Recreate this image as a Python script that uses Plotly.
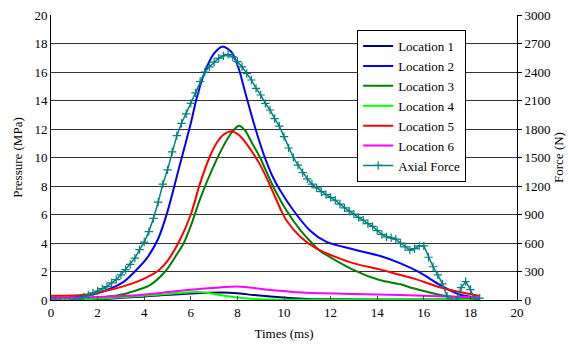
import plotly.graph_objects as go

# ---- data ----
t1 = [0, 2, 4, 6, 7.25, 8.1, 8.7, 10.1, 11, 12, 15, 18.4]
p1 = [0.0, 0.05, 0.25, 0.45, 0.52, 0.45, 0.35, 0.16, 0.07, 0.05, 0.04, 0.03]

t2 = [0, 1.0, 1.7, 2.4, 3.1, 3.6, 4.1, 4.6, 5.0, 5.5, 6.0, 6.25, 6.6, 7.0, 7.35, 7.75,
      8.05, 8.33, 8.6, 8.9, 9.2, 9.5, 9.83, 10.4, 11.1, 11.8, 13.0, 14.1, 15.0, 15.8, 16.7, 17.5, 18.4]
p2 = [0.15, 0.2, 0.35, 0.7, 1.25, 2.0, 2.9, 4.3, 6.2, 9.3, 12.4, 14.15, 16.0, 17.3, 17.78, 17.4,
      16.26, 14.6, 13.0, 11.35, 9.9, 8.7, 7.7, 6.3, 4.9, 4.1, 3.55, 3.1, 2.57, 1.95, 1.05, 0.4, 0.12]

t3 = [0, 1.7, 3.1, 3.8, 4.25, 4.9, 5.4, 5.7, 6.0, 6.4, 6.9, 7.5, 7.8, 8.07, 8.35, 8.6, 8.97, 9.54, 10.1,
      10.7, 11.2, 11.55, 13.0, 14.1, 15.0, 15.55, 16.7, 17.4, 18.4]
p3 = [0.0, 0.1, 0.4, 0.75, 1.05, 2.0, 3.2, 4.0, 5.2, 7.1, 9.1, 11.1, 11.85, 12.23, 11.85, 11.1, 10.0, 7.95, 6.3,
      4.9, 4.0, 3.45, 2.1, 1.4, 1.1, 0.82, 0.35, 0.19, 0.08]

t4 = [0, 2, 4, 5, 6, 6.5, 7.25, 8.1, 9, 10, 14, 18.4]
p4 = [0.0, 0.1, 0.3, 0.42, 0.55, 0.55, 0.35, 0.15, 0.05, 0.02, 0.02, 0.02]

t5 = [0, 1.0, 1.7, 2.5, 3.5, 4.0, 4.6, 5.0, 5.5, 6.0, 6.4, 6.8, 7.1, 7.4, 7.75, 8.05, 8.33,
      8.97, 9.3, 9.6, 9.9, 10.1, 10.7, 11.4, 13.0, 14.1, 15.0, 15.55, 16.84, 18.4]
p5 = [0.3, 0.32, 0.42, 0.7, 1.17, 1.5, 2.05, 2.75, 4.1, 6.0, 8.2, 10.0, 11.0, 11.6, 11.85, 11.6, 11.1,
      9.5, 8.4, 7.3, 6.2, 5.6, 4.44, 3.6, 2.57, 2.15, 1.75, 1.52, 0.82, 0.28]

t6 = [0, 1.7, 3.8, 6.0, 7.25, 8.0, 9.4, 10.8, 13.0, 15.0, 17.0, 18.4]
p6 = [0.12, 0.2, 0.35, 0.72, 0.88, 0.95, 0.7, 0.52, 0.42, 0.35, 0.25, 0.2]

t_force = [0.0, 0.2, 0.4, 0.6, 0.8, 1.0, 1.2, 1.4, 1.6, 1.8, 2.0, 2.2, 2.4, 2.6, 2.8, 3.0,
           3.2, 3.4, 3.6, 3.8, 4.0, 4.2, 4.4, 4.6, 4.8, 5.0, 5.2, 5.4, 5.6, 5.8, 6.0, 6.2,
           6.4, 6.6, 6.8, 7.0, 7.2, 7.4, 7.6, 7.8, 8.0, 8.2, 8.4, 8.6, 8.8, 9.0, 9.2, 9.4,
           9.6, 9.8, 10.0, 10.2, 10.4, 10.6, 10.8, 11.0, 11.2, 11.4, 11.6, 11.8, 12.0, 12.2,
           12.4, 12.6, 12.8, 13.0, 13.2, 13.4, 13.6, 13.8, 14.0, 14.2, 14.4, 14.6, 14.8, 15.0,
           15.2, 15.4, 15.6, 15.8, 16.0, 16.2, 16.4, 16.6, 16.8, 17.0, 17.2, 17.4, 17.6, 17.8,
           18.0, 18.2, 18.4]
force = [0, 0, -5, -15, -10, 5, 10, 30, 50, 75, 95, 120, 140, 180, 215, 265,
         320, 375, 440, 530, 610, 720, 860, 1030, 1220, 1370, 1560, 1730, 1860, 1960, 2070, 2180,
         2300, 2400, 2455, 2505, 2545, 2570, 2585, 2560, 2510, 2455, 2385, 2316, 2228, 2158, 2070, 2000,
         1910, 1830, 1720, 1600, 1500, 1420, 1340, 1275, 1220, 1180, 1140, 1110, 1080, 1050,
         1010, 970, 935, 905, 870, 840, 805, 775, 730, 690, 665, 655, 640, 600,
         560, 525, 540, 570, 570, 450, 350, 265, 170, 40, -20, 0, 130, 195,
         110, 0, 20]

x_ticks = [0, 2, 4, 6, 8, 10, 12, 14, 16, 18, 20]
y_ticks = [0, 2, 4, 6, 8, 10, 12, 14, 16, 18, 20]
y2_ticks = [0, 300, 600, 900, 1200, 1500, 1800, 2100, 2400, 2700, 3000]

series = [
    ("Location 1", t1, p1, "#000080"),
    ("Location 2", t2, p2, "#0000FF"),
    ("Location 3", t3, p3, "#008000"),
    ("Location 4", t4, p4, "#00FF00"),
    ("Location 5", t5, p5, "#FF0000"),
    ("Location 6", t6, p6, "#FF00FF"),
]

FONT = "Liberation Serif"

fig = go.Figure()
for name, t, p, c in series:
    fig.add_trace(go.Scatter(x=t, y=p, name=name, mode="lines",
                             line=dict(color=c, width=2, shape="spline", smoothing=0.8)))

fig.add_trace(go.Scatter(x=t_force, y=force, name="Axial Force", yaxis="y2",
                         mode="lines+markers",
                         line=dict(color="#008080", width=1.5),
                         marker=dict(symbol="cross-thin", size=6,
                                     line=dict(color="#008080", width=1.2))))

fig.update_layout(
    width=568, height=349,
    margin=dict(l=51, r=51, t=15, b=49),
    paper_bgcolor="white", plot_bgcolor="white",
    font=dict(family=FONT, size=13, color="black"),
    showlegend=True,
    legend=dict(x=0.657, y=0.947, xanchor="left", yanchor="top",
                bgcolor="white", bordercolor="black", borderwidth=1,
                font=dict(family=FONT, size=13), tracegroupgap=0, itemwidth=30,
                entrywidth=82, entrywidthmode="pixels"),
    xaxis=dict(range=[0, 20], tickvals=x_ticks, ticks="inside", ticklen=4,
               showline=True, linecolor="black", linewidth=1, mirror=False,
               showgrid=False, zeroline=False, automargin=False,
               title=dict(text="Times (ms)", font=dict(family=FONT, size=13), standoff=10)),
    yaxis=dict(range=[0, 20], tickvals=y_ticks, ticks="", showline=True,
               linecolor="black", linewidth=1, showgrid=True, gridcolor="#333333",
               gridwidth=1, zeroline=False, automargin=False,
               title=dict(text="Pressure (MPa)", font=dict(family=FONT, size=13), standoff=8)),
    yaxis2=dict(range=[0, 3000], tickvals=y2_ticks, overlaying="y", side="right",
                ticks="outside", ticklen=4, tickcolor="black", showline=True,
                linecolor="black", linewidth=1, showgrid=False, zeroline=False,
                automargin=False,
                title=dict(text="Force (N)", font=dict(family=FONT, size=13), standoff=4)),
)

fig.write_html("out.html",
               config={"displayModeBar": False},
               post_script="document.body.style.margin='0';document.body.style.overflow='hidden';")
